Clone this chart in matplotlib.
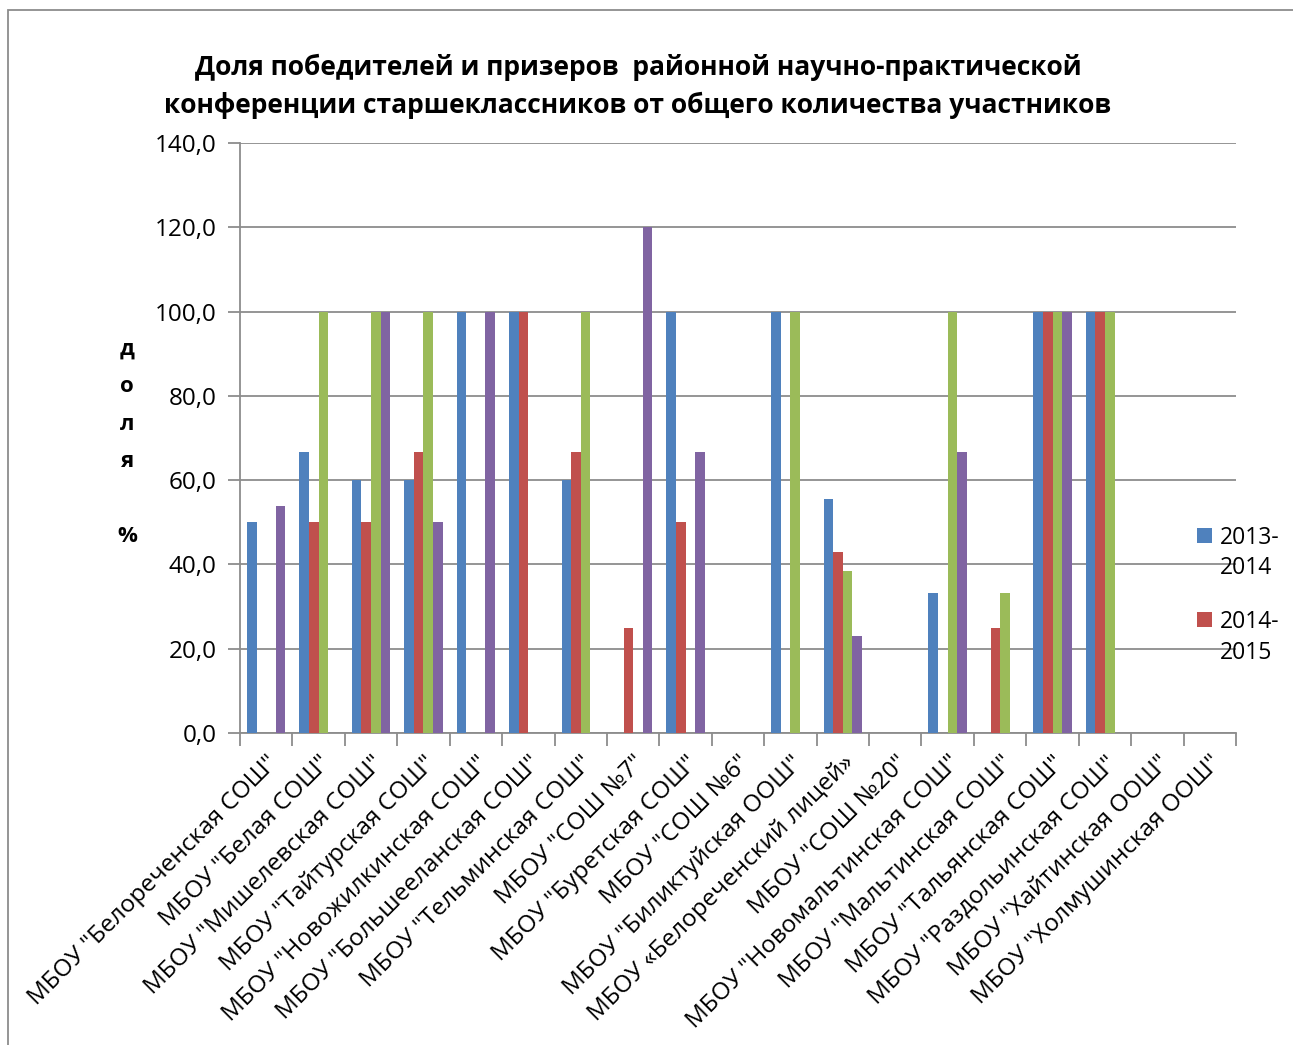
import numpy as np
import matplotlib
matplotlib.use("Agg")
import matplotlib.pyplot as plt
from matplotlib.patches import Rectangle
from matplotlib.container import BarContainer
from matplotlib.legend_handler import HandlerPatch, update_from_first_child

plt.rcParams["font.family"] = ["Open Sans", "DejaVu Sans"]

# schools (x categories)
schools = ['МБОУ "Белореченская СОШ"', 'МБОУ "Белая СОШ"', 'МБОУ "Мишелевская СОШ"',
           'МБОУ "Тайтурская СОШ"', 'МБОУ "Новожилкинская СОШ"', 'МБОУ "Большееланская СОШ"',
           'МБОУ "Тельминская СОШ"', 'МБОУ "СОШ №7"', 'МБОУ "Буретская СОШ"', 'МБОУ "СОШ №6"',
           'МБОУ "Биликтуйская ООШ"', 'МБОУ «Белореченский лицей»', 'МБОУ "СОШ №20"',
           'МБОУ "Новомальтинская СОШ"', 'МБОУ "Мальтинская СОШ"', 'МБОУ "Тальянская СОШ"',
           'МБОУ "Раздольинская СОШ"', 'МБОУ "Хайтинская ООШ"', 'МБОУ "Холмушинская ООШ"']

# shares, %
y2013 = [50.0, 66.7, 60.0, 60.0, 100.0, 100.0, 60.0, 0, 100.0, 0, 100.0, 55.6, 0, 33.3, 0, 100.0, 100.0, 0, 0]
y2014 = [0, 50.0, 50.0, 66.7, 0, 100.0, 66.7, 25.0, 50.0, 0, 0, 42.9, 0, 0, 25.0, 100.0, 100.0, 0, 0]
y2015 = [0, 100.0, 100.0, 100.0, 0, 0, 100.0, 0, 0, 0, 100.0, 38.5, 0, 100.0, 33.3, 100.0, 100.0, 0, 0]
y2016 = [53.8, 0, 100.0, 50.0, 100.0, 0, 0, 120.0, 66.7, 0, 0, 23.1, 0, 66.7, 0, 100.0, 0, 0, 0]

series = [y2013, y2014, y2015, y2016]
names = ["2013-\n2014", "2014-\n2015", "_2015-2016", "_2016-2017"]
colors = ["#4F81BD", "#C0504D", "#9BBB59", "#8064A2"]

fig = plt.figure(figsize=(12.93, 10.45), dpi=100)
ax = fig.add_axes([240/1293, 1-733/1045, 996/1293, 590/1045])

x = np.arange(len(schools))
w = 0.183
bars = []
for i, (vals, nm, c) in enumerate(zip(series, names, colors)):
    bars.append(ax.bar(x + (i - 1.5) * w, vals, w, color=c, label=nm, zorder=3))

ax.set_xlim(-0.5, len(schools) - 0.5)
ax.set_ylim(0, 140)
ax.set_yticks(np.arange(0, 141, 20))
ax.set_yticklabels([f"{v:.1f}".replace(".", ",") for v in np.arange(0, 141, 20)], fontsize=17.5)
ax.yaxis.grid(True, color="#8c8c8c", linewidth=1.3, zorder=0)

# category labels between boundary ticks
ax.set_xticks(np.arange(-0.5, len(schools), 1.0))
ax.set_xticklabels([])
ax.set_xticks(x, minor=True)
ax.set_xticklabels(schools, minor=True, rotation=45, ha="right", va="top",
                   rotation_mode="anchor", fontsize=17.5)
ax.tick_params(axis="x", which="minor", length=0, pad=13)
ax.tick_params(axis="x", which="major", length=9, width=1.3, color="#8c8c8c")
ax.tick_params(axis="y", length=9, width=1.3, color="#8c8c8c", pad=8)

for s in ["top", "right"]:
    ax.spines[s].set_visible(False)
for s in ["left", "bottom"]:
    ax.spines[s].set_color("#8c8c8c")
    ax.spines[s].set_linewidth(1.3)

fig.text(638/1293, 1-86/1045,
         "Доля победителей и призеров  районной научно-практической\n"
         "конференции старшеклассников от общего количества участников",
         ha="center", va="center", fontsize=19, fontweight="bold", linespacing=1.5)

fig.text(127/1293, 1-443/1045, "д\nо\nл\nя\n\n%", ha="center", va="center",
         fontsize=16, fontweight="bold", linespacing=2.03)


# legend square sits at the first line of the wrapped label
def top_square(legend, orig_handle, xdescent, ydescent, width, height, fontsize):
    sq = 0.65 * fontsize
    return Rectangle((-xdescent, -ydescent + height - sq + 0.45 * fontsize), sq, sq)


leg = fig.legend(handles=bars[:2], labels=names[:2], loc="upper left",
                 bbox_to_anchor=(1188/1293, 1-517/1045), frameon=False,
                 fontsize=16.5, handlelength=0.65, handleheight=1.9, handletextpad=0.35,
                 labelspacing=1.3, borderaxespad=0,
                 handler_map={BarContainer: HandlerPatch(patch_func=top_square,
                                                         update_func=update_from_first_child)})
for t in leg.get_texts():
    t.set_linespacing(1.35)

# outer chart border (cut off at right and bottom)
fig.patches.append(Rectangle((8/1293, -0.05), 1.1, 1-10/1045 + 0.05, transform=fig.transFigure,
                             fill=False, edgecolor="#8c8c8c", linewidth=1.3))

fig.savefig("out.png", dpi=100)
